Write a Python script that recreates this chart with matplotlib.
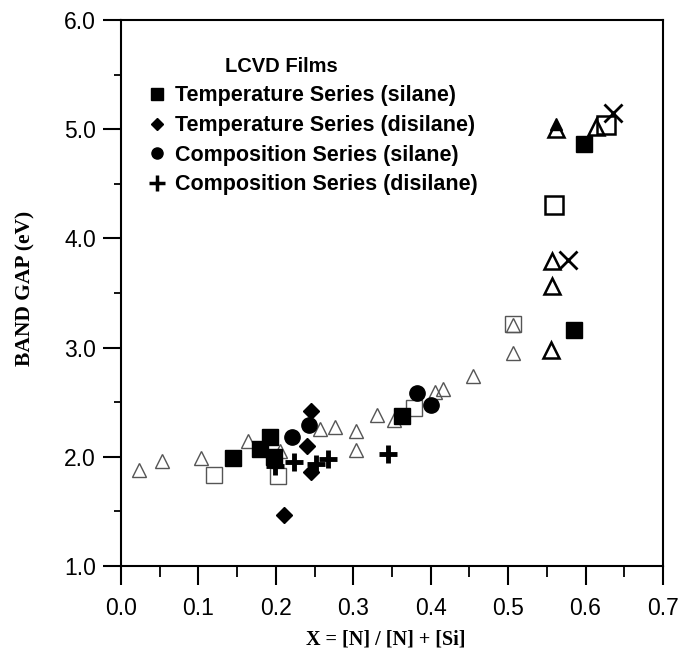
import matplotlib
matplotlib.use("Agg")
import matplotlib.pyplot as plt
from matplotlib.lines import Line2D
from matplotlib.ticker import MultipleLocator, FormatStrFormatter

# filled markers: the four LCVD series
temp_silane_x = [0.145, 0.180, 0.193, 0.197, 0.363, 0.585, 0.598]
temp_silane_y = [1.99, 2.07, 2.18, 2.00, 2.37, 3.16, 4.86]

temp_disilane_x = [0.245, 0.240, 0.245, 0.211]
temp_disilane_y = [2.42, 2.10, 1.86, 1.47]

comp_silane_x = [0.221, 0.243, 0.382, 0.401]
comp_silane_y = [2.18, 2.29, 2.58, 2.47]

comp_disilane_x = [0.199, 0.223, 0.252, 0.267, 0.345]
comp_disilane_y = [1.92, 1.95, 1.93, 1.98, 2.03]

# open markers: literature data
tri_light_x = [0.023, 0.053, 0.103, 0.164, 0.206, 0.257, 0.276, 0.303, 0.303,
               0.331, 0.352, 0.405, 0.416, 0.455, 0.506, 0.506]
tri_light_y = [1.88, 1.96, 1.99, 2.14, 2.05, 2.25, 2.27, 2.24, 2.06,
               2.38, 2.34, 2.59, 2.62, 2.74, 2.95, 3.21]
tri_dark_x = [0.555, 0.557, 0.557, 0.562, 0.613]
tri_dark_y = [2.98, 3.56, 3.79, 5.00, 5.02]
tri_filled_x = [0.562]
tri_filled_y = [5.05]

sq_light_x = [0.120, 0.203, 0.378, 0.506]
sq_light_y = [1.83, 1.82, 2.45, 3.22]
sq_dark_x = [0.559, 0.626]
sq_dark_y = [4.31, 5.04]

cross_x = [0.577, 0.635]
cross_y = [3.80, 5.15]

legend_labels = ["Temperature Series (silane)", "Temperature Series (disilane)",
                 "Composition Series (silane)", "Composition Series (disilane)"]

sans = "Liberation Sans"
serif = "Liberation Serif"

fig = plt.figure(figsize=(6.81, 6.55), dpi=100)
ax = fig.add_axes([0.1777, 0.1359, 0.7958, 0.8336])

# background open symbols
ax.plot(tri_light_x, tri_light_y, ls="none", marker="^", ms=10, mfc="none",
        mec="#555555", mew=1.0)
ax.plot(sq_light_x, sq_light_y, ls="none", marker="s", ms=12, mfc="none",
        mec="#555555", mew=1.0)
ax.plot(tri_dark_x, tri_dark_y, ls="none", marker="^", ms=11, mfc="none",
        mec="black", mew=1.8)
ax.plot(tri_filled_x, tri_filled_y, ls="none", marker="^", ms=8, mfc="black",
        mec="black")
ax.plot(sq_dark_x, sq_dark_y, ls="none", marker="s", ms=13, mfc="none",
        mec="black", mew=1.8)
ax.plot(cross_x, cross_y, ls="none", marker="x", ms=13, mec="black", mew=2.0)

# LCVD series
ax.plot(temp_silane_x, temp_silane_y, ls="none", marker="s", ms=11, color="black")
ax.plot(temp_disilane_x, temp_disilane_y, ls="none", marker="D", ms=8.5, color="black")
ax.plot(comp_silane_x, comp_silane_y, ls="none", marker="o", ms=11, color="black")
ax.plot(comp_disilane_x, comp_disilane_y, ls="none", marker="+", ms=13, mew=3.5,
        color="black")

ax.set_xlim(0.0, 0.7)
ax.set_ylim(1.0, 6.0)
ax.xaxis.set_major_locator(MultipleLocator(0.1))
ax.xaxis.set_minor_locator(MultipleLocator(0.05))
ax.yaxis.set_major_locator(MultipleLocator(1.0))
ax.yaxis.set_minor_locator(MultipleLocator(0.5))
ax.xaxis.set_major_formatter(FormatStrFormatter("%.1f"))
ax.yaxis.set_major_formatter(FormatStrFormatter("%.1f"))

for s in ax.spines.values():
    s.set_linewidth(1.5)
ax.tick_params(axis="x", which="major", direction="out", length=14, width=1.5,
               pad=8, labelsize=16.5)
ax.tick_params(axis="x", which="minor", direction="out", length=8, width=1.3)
ax.tick_params(axis="y", which="major", direction="out", length=13, width=1.5,
               pad=5, labelsize=16.5)
ax.tick_params(axis="y", which="minor", direction="out", length=5, width=1.3)
for lab in ax.get_xticklabels() + ax.get_yticklabels():
    lab.set_fontfamily(sans)

ax.set_xlabel("X = [N] / [N] + [Si]", fontfamily=serif, fontweight="bold",
              fontsize=14.5)
ax.xaxis.set_label_coords(0.489, -0.117)
ax.set_ylabel("BAND GAP (eV)", fontfamily=serif, fontweight="bold", fontsize=15.5)
ax.yaxis.label.set_va("center")
ax.yaxis.set_label_coords(-0.177, 0.509)

# legend
handles = [
    Line2D([], [], ls="none", marker="s", ms=8, color="black"),
    Line2D([], [], ls="none", marker="D", ms=6, color="black"),
    Line2D([], [], ls="none", marker="o", ms=8, color="black"),
    Line2D([], [], ls="none", marker="+", ms=11, mew=2.5, color="black"),
]
ax.text(0.295, 0.914, "LCVD Films", transform=ax.transAxes, ha="center",
        va="center", fontfamily=sans, fontweight="bold", fontsize=14.5)
ax.legend(handles, legend_labels, loc="upper left", bbox_to_anchor=(0.046, 0.880),
          frameon=False, borderpad=0, borderaxespad=0, handlelength=1.0,
          handletextpad=0.35, labelspacing=0.4,
          prop={"family": sans, "weight": "bold", "size": 15.5})

fig.savefig("out.png", dpi=100)
